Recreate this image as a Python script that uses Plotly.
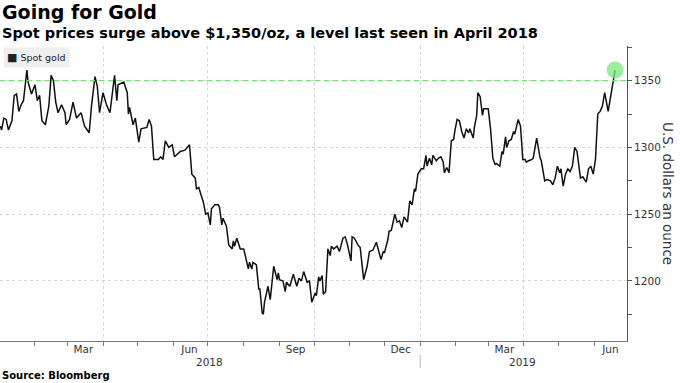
import plotly.graph_objects as go

dates = [
"2018-01-02","2018-01-03","2018-01-05","2018-01-07","2018-01-09","2018-01-12","2018-01-14","2018-01-16","2018-01-18","2018-01-20",
"2018-01-22","2018-01-25","2018-01-26","2018-01-29","2018-02-01","2018-02-03","2018-02-05","2018-02-07","2018-02-10","2018-02-13",
"2018-02-15","2018-02-17","2018-02-19","2018-02-21","2018-02-24","2018-02-27","2018-02-28","2018-03-03","2018-03-06","2018-03-09",
"2018-03-13","2018-03-16","2018-03-20","2018-03-22","2018-03-25","2018-03-27","2018-03-29","2018-04-01","2018-04-04","2018-04-07",
"2018-04-11","2018-04-13","2018-04-14","2018-04-19","2018-04-22","2018-04-23","2018-04-24","2018-04-27","2018-04-29","2018-05-02",
"2018-05-04","2018-05-09","2018-05-11","2018-05-13","2018-05-15","2018-05-19","2018-05-21","2018-05-23","2018-05-25","2018-05-28",
"2018-05-31","2018-06-02","2018-06-07","2018-06-11","2018-06-13","2018-06-15","2018-06-17","2018-06-20","2018-06-21","2018-06-23",
"2018-06-27","2018-06-29","2018-07-01","2018-07-03","2018-07-04","2018-07-07","2018-07-10","2018-07-11","2018-07-13","2018-07-14",
"2018-07-17","2018-07-19","2018-07-20","2018-07-22","2018-07-23","2018-07-24","2018-07-26","2018-07-29","2018-08-01","2018-08-04",
"2018-08-05","2018-08-06","2018-08-08","2018-08-09","2018-08-12","2018-08-14","2018-08-15","2018-08-17","2018-08-18","2018-08-19",
"2018-08-22","2018-08-24","2018-08-25","2018-08-27","2018-08-30","2018-08-31","2018-09-01","2018-09-04","2018-09-06","2018-09-07",
"2018-09-10","2018-09-13","2018-09-16","2018-09-18","2018-09-20","2018-09-22","2018-09-25","2018-09-27","2018-09-29","2018-10-02",
"2018-10-03","2018-10-05","2018-10-06","2018-10-08","2018-10-09","2018-10-11","2018-10-13","2018-10-15","2018-10-16","2018-10-18",
"2018-10-21","2018-10-23","2018-10-26","2018-10-28","2018-10-30","2018-11-02","2018-11-03","2018-11-05","2018-11-08","2018-11-10",
"2018-11-13","2018-11-16","2018-11-18","2018-11-21","2018-11-24","2018-11-28","2018-11-30","2018-12-01","2018-12-04","2018-12-05",
"2018-12-07","2018-12-10","2018-12-12","2018-12-14","2018-12-16","2018-12-18","2018-12-21","2018-12-23","2018-12-25","2018-12-27",
"2018-12-28","2018-12-30","2019-01-02","2019-01-04","2019-01-06","2019-01-07","2019-01-09","2019-01-11","2019-01-12","2019-01-15",
"2019-01-17","2019-01-19","2019-01-21","2019-01-22","2019-01-24","2019-01-26","2019-01-28","2019-01-30","2019-01-31","2019-02-02",
"2019-02-04","2019-02-06","2019-02-08","2019-02-10","2019-02-12","2019-02-13","2019-02-16","2019-02-17","2019-02-19","2019-02-20",
"2019-02-22","2019-02-24","2019-02-25","2019-02-28","2019-03-01","2019-03-03","2019-03-05","2019-03-07","2019-03-08","2019-03-11",
"2019-03-13","2019-03-14","2019-03-16","2019-03-17","2019-03-19","2019-03-21","2019-03-23","2019-03-24","2019-03-27","2019-03-29",
"2019-03-31","2019-04-02","2019-04-03","2019-04-05","2019-04-08","2019-04-09","2019-04-12","2019-04-15","2019-04-16","2019-04-19",
"2019-04-21","2019-04-24","2019-04-26","2019-04-28","2019-04-30","2019-05-02","2019-05-03","2019-05-05","2019-05-07","2019-05-09",
"2019-05-11","2019-05-13","2019-05-15","2019-05-17","2019-05-20","2019-05-22","2019-05-25","2019-05-27","2019-05-29","2019-05-31",
"2019-06-02","2019-06-04","2019-06-06","2019-06-08","2019-06-10","2019-06-13","2019-06-17","2019-06-19",
]

spot_gold = [
1316,1313,1322,1321,1313,1320,1339,1340,1327,1332,
1335,1358,1349,1340,1347,1335,1339,1320,1317,1331,
1354,1350,1334,1326,1332,1326,1317,1321,1334,1322,
1326,1316,1311,1331,1353,1346,1326,1341,1332,1326,
1354,1335,1347,1349,1341,1325,1330,1317,1322,1304,
1314,1315,1321,1316,1291,1291,1293,1291,1305,1300,
1302,1293,1297,1298,1300,1302,1280,1277,1269,1270,
1259,1250,1251,1242,1254,1257,1257,1255,1242,1247,
1241,1227,1226,1224,1230,1226,1232,1224,1224,1214,
1209,1214,1209,1214,1212,1194,1194,1176,1175,1184,
1196,1186,1196,1211,1201,1206,1201,1200,1192,1199,
1196,1205,1196,1202,1200,1207,1199,1200,1184,1191,
1189,1203,1200,1204,1190,1192,1224,1219,1226,1224,
1226,1222,1232,1233,1227,1215,1233,1232,1227,1225,
1201,1211,1222,1223,1229,1216,1222,1221,1231,1237,
1238,1250,1244,1245,1240,1248,1244,1260,1257,1269,
1267,1280,1284,1284,1294,1286,1292,1287,1294,1290,
1292,1293,1289,1281,1285,1281,1305,1306,1312,1321,
1320,1312,1307,1314,1311,1314,1307,1315,1324,1341,
1338,1324,1329,1329,1329,1314,1292,1287,1288,1286,
1297,1295,1308,1300,1305,1306,1312,1310,1321,1316,
1291,1291,1289,1290,1291,1292,1307,1292,1290,1275,
1276,1275,1272,1277,1286,1281,1284,1271,1280,1284,
1282,1286,1300,1297,1277,1278,1274,1284,1286,1280,
1291,1325,1327,1331,1341,1327,1349,1358,
]

grid_dates = ["2018-04-01", "2018-07-01", "2018-10-01", "2019-01-01", "2019-04-01"]
month_label_dates = ["2018-03-15", "2018-06-15", "2018-09-15", "2018-12-15", "2019-03-15", "2019-06-15"]
month_labels = ["Mar", "Jun", "Sep", "Dec", "Mar", "Jun"]
year_label_dates = ["2018-07-02", "2019-03-31"]
year_labels = ["2018", "2019"]
year_break = "2019-01-01"
y_ticks = [1200, 1250, 1300, 1350]
threshold = 1350
x_range = ["2018-01-01 16:00", "2019-06-29 08:00"]
y_range = [1155, 1376]

FONT = "DejaVu Sans"

fig = go.Figure()
fig.add_trace(go.Scatter(
    x=dates, y=spot_gold, mode="lines", name="Spot gold",
    line=dict(color="#111111", width=1.5), showlegend=False, hoverinfo="skip",
))
fig.add_trace(go.Scatter(
    x=[dates[-1]], y=[spot_gold[-1]], mode="markers", xaxis="x2",
    marker=dict(size=17, color="rgba(120,235,120,0.75)", line=dict(width=0)),
    showlegend=False, hoverinfo="skip",
))

fig.add_shape(type="line", xref="paper", x0=0, x1=1, yref="y", y0=threshold, y1=threshold,
              line=dict(color="#6be86b", width=1.2, dash="5px,4px"), layer="above")
fig.add_shape(type="line", xref="x", x0=year_break, x1=year_break, yref="paper", y0=-0.047, y1=-0.092,
              line=dict(color="#bbbbbb", width=1))

fig.update_layout(
    width=680, height=383,
    margin=dict(l=0, r=53, t=46, b=42),
    paper_bgcolor="white", plot_bgcolor="white",
    showlegend=False,
    xaxis=dict(
        type="date", range=x_range, tickvals=grid_dates, showticklabels=False,
        ticks="outside", ticklen=4, tickcolor="#777777", tickwidth=1,
        showgrid=True, gridcolor="#d6d6d6", griddash="dot", gridwidth=1,
        showline=True, linecolor="#777777", linewidth=1, zeroline=False,
        minor=dict(ticks="outside", ticklen=4, tickcolor="#777777", dtick="M1", tick0="2018-01-01", showgrid=False),
    ),
    xaxis2=dict(
        type="date", overlaying="x", matches="x", anchor="y", side="bottom",
        tickvals=month_label_dates, ticktext=month_labels, ticks="", showgrid=False,
        showline=False, zeroline=False, tickfont=dict(family=FONT, size=10.5, color="#333333"),
    ),
    yaxis=dict(
        side="right", range=y_range, tickvals=y_ticks,
        ticks="outside", ticklen=4, tickcolor="#555555",
        showgrid=True, gridcolor="#d6d6d6", griddash="dot", gridwidth=1,
        showline=True, linecolor="#555555", linewidth=1, zeroline=False,
        tickfont=dict(family=FONT, size=10.5, color="#333333"),
        minor=dict(ticks="outside", ticklen=4, tickcolor="#555555", dtick=25, tick0=1175, showgrid=False),
    ),
)

annotations = [
    dict(text="<b>Going for Gold</b>", xref="paper", yref="paper", x=0, y=1.115, xanchor="left", yanchor="middle",
         showarrow=False, font=dict(family=FONT, size=19, color="#000000")),
    dict(text="<b>Spot prices surge above $1,350/oz, a level last seen in April 2018</b>", xref="paper", yref="paper",
         x=0, y=1.043, xanchor="left", yanchor="middle", showarrow=False, font=dict(family=FONT, size=14.5, color="#000000")),
    dict(text="<b>Source: Bloomberg</b>", xref="paper", yref="paper", x=0, y=-0.118, xanchor="left", yanchor="middle",
         showarrow=False, font=dict(family=FONT, size=10, color="#000000")),
    dict(text="U.S. dollars an ounce", xref="paper", yref="paper", x=1.066, y=0.5, xanchor="center", yanchor="middle",
         textangle=90, showarrow=False, font=dict(family=FONT, size=13.5, color="#333333")),
    dict(text="<span style='font-size:11px'>■</span> Spot gold", xref="paper", yref="paper", x=0.005, y=0.997,
         xanchor="left", yanchor="top", showarrow=False, bgcolor="#efefef", borderpad=3,
         font=dict(family=FONT, size=9.5, color="#222222")),
]
for d, t in zip(year_label_dates, year_labels):
    annotations.append(dict(text=t, xref="x", yref="paper", x=d, y=-0.07, xanchor="center", yanchor="middle",
                            showarrow=False, font=dict(family=FONT, size=10.5, color="#333333")))
fig.update_layout(annotations=annotations)

fig.write_html("out.html", config={"displayModeBar": False},
               post_script="document.body.style.margin='0';document.body.style.padding='0';")
